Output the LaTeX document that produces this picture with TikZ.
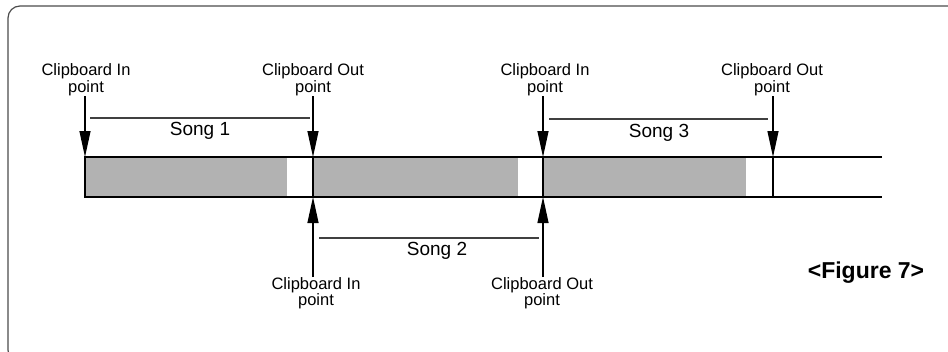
\documentclass[tikz,border=0pt]{standalone}
\usepackage{fontspec}
\setmainfont{Liberation Sans}
\usetikzlibrary{arrows.meta}

\tikzset{
  pointlabel/.style={align=center, inner sep=0pt, font=\fontsize{16.5}{13.5}\selectfont},
  songlabel/.style={inner sep=0pt, font=\fontsize{19}{19}\selectfont},
  cliparrow/.style={line width=1.2pt, -{Triangle[length=26pt,width=11pt]}},
  spanline/.style={line width=1.1pt, black!75},
  barline/.style={line width=1.3pt},
}

\begin{document}
\begin{tikzpicture}[x=1pt, y=-1pt]
  \useasboundingbox (0,0) rectangle (948,351);
  \draw[line width=1.2pt, black!70, rounded corners=12pt] (8,6) rectangle (960,362);

  % the track
  \fill[black!30] (85,157) rectangle (287,197);
  \fill[black!30] (314,157) rectangle (518,197);
  \fill[black!30] (543,157) rectangle (746,197);
  \draw[barline] (882,157) -- (85,157) -- (85,197) -- (882,197);
  \foreach \x in {313, 543, 773}
    \draw[barline] (\x,157) -- (\x,197);

  % cue points on the track
  \coordinate (inA) at (85,157);
  \coordinate (outA) at (313,157);
  \coordinate (inC) at (543,157);
  \coordinate (outC) at (773,157);
  \coordinate (inB) at (313,197);
  \coordinate (outB) at (543,197);

  % labels above
  \node[pointlabel, anchor=south] (lblInA) at (86,96) {Clipboard In\\point};
  \node[pointlabel, anchor=south] (lblOutA) at (313,96) {Clipboard Out\\point};
  \node[pointlabel, anchor=south] (lblInC) at (545,96) {Clipboard In\\point};
  \node[pointlabel, anchor=south] (lblOutC) at (772,96) {Clipboard Out\\point};
  % labels below
  \node[pointlabel, anchor=north] (lblInB) at (316,277) {Clipboard In\\point};
  \node[pointlabel, anchor=north] (lblOutB) at (542,277) {Clipboard Out\\point};

  \draw[cliparrow] (lblInA.south -| inA) -- (inA);
  \draw[cliparrow] (lblOutA.south -| outA) -- (outA);
  \draw[cliparrow] (lblInC.south -| inC) -- (inC);
  \draw[cliparrow] (lblOutC.south -| outC) -- (outC);
  \draw[cliparrow] (lblInB.north -| inB) -- (inB);
  \draw[cliparrow] (lblOutB.north -| outB) -- (outB);

  % songs
  \draw[spanline] (90,118) -- (310,118);
  \node[songlabel] (songA) at (200,131) {Song 1};
  \draw[spanline] (319,238) -- (539,238);
  \node[songlabel] (songB) at (437,251) {Song 2};
  \draw[spanline] (549,119) -- (768,119);
  \node[songlabel] (songC) at (659,133) {Song 3};

  \node[inner sep=0pt, font=\bfseries\fontsize{23}{23}\selectfont] (fig) at (866,273) {<Figure 7>};
\end{tikzpicture}
\end{document}
